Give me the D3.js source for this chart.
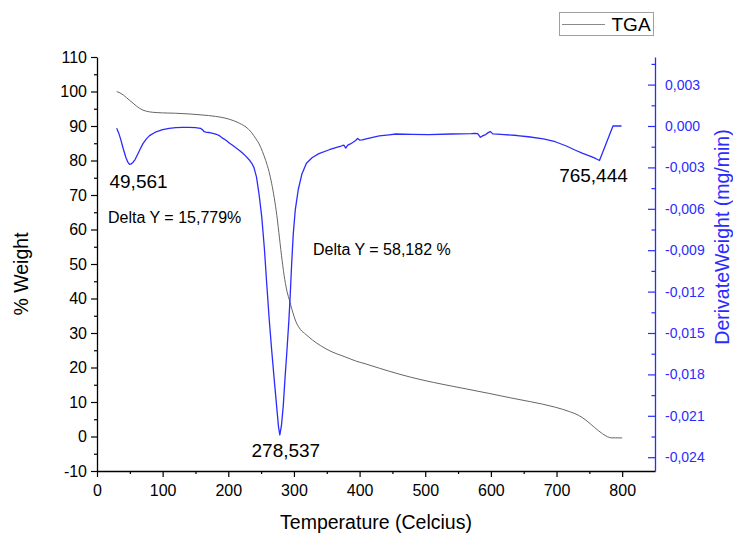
<!DOCTYPE html>
<html>
<head>
<meta charset="utf-8">
<script src="https://cdn.jsdelivr.net/npm/d3@7"></script>
<style>
  body { margin: 0; background: #fff; }
  svg { display: block; font-family: "Liberation Sans", Arial, sans-serif; }
</style>
</head>
<body>
<svg id="chart" width="733" height="534"></svg>
<script>
// Thermogravimetric curve: temperature (°C) vs remaining weight (%)
const tgaTemp = [30, 35, 40, 45, 50, 55, 60, 65, 70, 80, 90, 100, 120, 140, 160, 180, 195, 210, 220, 227,
  235, 242, 247, 252, 257, 262, 266, 270, 274, 278, 282, 286, 290, 293, 297, 303, 310, 318, 328, 340,
  355, 379, 394, 410, 430, 460, 495, 530, 565, 597, 630, 660, 698, 720, 733, 745, 758, 770, 778, 784, 790, 800];
const tgaWeight = [100, 99.6, 99.0, 98.2, 97.4, 96.6, 95.8, 95.1, 94.6, 94.1, 93.9, 93.8, 93.7, 93.5, 93.2, 92.8, 92.3, 91.4, 90.5, 89.7,
  88.2, 86.3, 84.8, 82.6, 80.0, 76.8, 73.4, 69.2, 64.0, 57.5, 51.0, 45.5, 41.6, 39.6, 36.8, 33.3, 31.0, 29.6, 28.0, 26.4,
  24.8, 23.0, 21.9, 21.0, 19.8, 18.1, 16.4, 15.0, 13.7, 12.5, 11.2, 10.1, 8.5, 7.2, 6.2, 4.7, 2.6, 0.8, -0.1, -0.4, -0.4, -0.4];

// Derivative curve: temperature (°C) vs derivative weight (mg/min)
const dtgTemp = [30, 33, 36, 40, 44, 47, 49.561, 52, 55, 58, 62, 66, 70, 75, 80, 90, 100, 110, 120, 130,
  140, 150, 155, 158, 161, 163, 166, 170, 175, 182, 187, 192, 197, 202, 207, 212, 217, 222, 227, 232,
  236, 239, 243, 247, 251, 255, 258.5, 262, 266, 270, 274, 276.5, 278.537, 281, 283.7, 286.5, 289, 292, 294, 296.5,
  299, 302, 306.6, 312, 319, 328, 338, 354, 365, 372, 376, 379, 382, 386, 390, 394, 397, 400, 404, 410,
  420, 430, 445, 455, 480, 505, 540, 570, 576, 580, 584, 588, 592, 596, 599, 603, 610, 620, 640, 657,
  680, 698, 715, 728, 740, 753, 760, 765.444, 786, 792, 799];
const dtgRate = [-0.00017, -0.0005, -0.00095, -0.00165, -0.00228, -0.00262, -0.00278, -0.00275, -0.00262, -0.00243,
  -0.00205, -0.00165, -0.00128, -0.00095, -0.0007, -0.00042, -0.00027, -0.00017, -0.00012, -0.0001,
  -0.0001, -0.00012, -0.00015, -0.00018, -0.00028, -0.0004, -0.00044, -0.00047, -0.00052, -0.0006,
  -0.00072, -0.0009, -0.00105, -0.00125, -0.00142, -0.0016, -0.00178, -0.00198, -0.0022, -0.00246,
  -0.00272, -0.003, -0.0037, -0.005, -0.0066, -0.0089, -0.0114, -0.0138, -0.0162, -0.0184,
  -0.0205, -0.0218, -0.02239, -0.0217, -0.0203, -0.0182, -0.0165, -0.0143, -0.0126, -0.0100,
  -0.0078, -0.0061, -0.0046, -0.0035, -0.0027, -0.00228, -0.002, -0.00172, -0.00155, -0.00145,
  -0.00138, -0.0016, -0.00138, -0.0013, -0.00118, -0.00105, -0.0009, -0.00102, -0.001, -0.00093,
  -0.00082, -0.00072, -0.00064, -0.00058, -0.0006, -0.00062, -0.00058, -0.00055, -0.00053, -0.00056,
  -0.00082, -0.0007, -0.00062, -0.00048, -0.0004, -0.00057, -0.00059, -0.00062, -0.00069, -0.00078,
  -0.00094, -0.00114, -0.00145, -0.00174, -0.00198, -0.00222, -0.00237, -0.0025, 0, 0, 0];

// Axis ticks
const tempTicks = [0, 100, 200, 300, 400, 500, 600, 700, 800];
const weightTicks = [-10, 0, 10, 20, 30, 40, 50, 60, 70, 80, 90, 100, 110];
const rateTicks = [0.003, 0, -0.003, -0.006, -0.009, -0.012, -0.015, -0.018, -0.021, -0.024];

// Annotations
const peakTemps = [49.561, 278.537, 765.444];
const peakLabels = ["49,561", "278,537", "765,444"];
const stepLabels = ["Delta Y = 15,779%", "Delta Y = 58,182 %"];
const seriesNames = ["TGA"];

const grayLine = "#666666";
const blue = "#2b2bff";

const svg = d3.select("#chart");

const x = d3.scaleLinear().domain([0, 850]).range([97, 655]);
const yW = d3.scaleLinear().domain([-10, 110]).range([471, 57]);
const yR = d3.scaleLinear().domain([-0.025, 0.005]).range([471, 57]);

const commaLocale = d3.formatLocale({ decimal: ",", thousands: ".", grouping: [3], currency: ["", ""], minus: "-" });
const rateFmt = commaLocale.format(".3f");

function styleAxis(g, color) {
  g.select(".domain").attr("stroke", color).attr("stroke-width", 1.3);
  g.selectAll(".tick line").attr("stroke", color).attr("stroke-width", 1.2);
  g.selectAll(".tick text").attr("fill", color);
}

// Bottom axis
const gx = svg.append("g").attr("transform", "translate(0,471)")
  .call(d3.axisBottom(x).tickValues(tempTicks).tickSizeInner(6).tickSizeOuter(0).tickPadding(8).tickFormat(d3.format("d")))
  .attr("font-size", 16).attr("font-family", null);
styleAxis(gx, "#000");
svg.append("g").attr("transform", "translate(0,471)")
  .call(d3.axisBottom(x).tickValues(d3.range(50, 800, 100)).tickSize(3).tickFormat(() => ""))
  .call(g => g.select(".domain").remove())
  .selectAll(".tick line").attr("stroke", "#000").attr("stroke-width", 1.2);

// Left axis
const gl = svg.append("g").attr("transform", "translate(97,0)")
  .call(d3.axisLeft(yW).tickValues(weightTicks).tickSizeInner(6).tickSizeOuter(0).tickPadding(4).tickFormat(d3.format("d")))
  .attr("font-size", 16).attr("font-family", null);
gl.selectAll(".tick text").text(d => d < 0 ? "-" + Math.abs(d) : d);
styleAxis(gl, "#000");
svg.append("g").attr("transform", "translate(97,0)")
  .call(d3.axisLeft(yW).tickValues(d3.range(-5, 110, 10)).tickSize(3).tickFormat(() => ""))
  .call(g => g.select(".domain").remove())
  .selectAll(".tick line").attr("stroke", "#000").attr("stroke-width", 1.2);

// Right axis (derivative)
const gr = svg.append("g").attr("transform", "translate(655,0)")
  .call(d3.axisRight(yR).tickValues(rateTicks).tickSizeInner(-7).tickSizeOuter(0).tickPadding(10).tickFormat(rateFmt))
  .attr("font-size", 14).attr("font-family", null);
styleAxis(gr, blue);
svg.append("g").attr("transform", "translate(655,0)")
  .call(d3.axisRight(yR).tickValues(d3.range(-0.0225, 0.005, 0.003)).tickSize(-3.5).tickFormat(() => ""))
  .call(g => g.select(".domain").remove())
  .selectAll(".tick line").attr("stroke", blue).attr("stroke-width", 1.2);

// Axis titles
svg.append("text").attr("x", 376).attr("y", 529).attr("text-anchor", "middle")
  .attr("font-size", 19.5).attr("fill", "#000").text("Temperature (Celcius)");
svg.append("text").attr("transform", "translate(28,274) rotate(-90)").attr("text-anchor", "middle")
  .attr("font-size", 19.5).attr("fill", "#000").text("% Weight");
svg.append("text").attr("transform", "translate(729,237) rotate(-90)").attr("text-anchor", "middle")
  .attr("font-size", 19.5).attr("fill", blue).text("DerivateWeight (mg/min)");

// Curves
const tgaData = tgaTemp.map((t, i) => [t, tgaWeight[i]]);
const dtgData = dtgTemp.map((t, i) => [t, dtgRate[i]]);

svg.append("path").datum(tgaData)
  .attr("fill", "none").attr("stroke", grayLine).attr("stroke-width", 1)
  .attr("d", d3.line().x(d => x(d[0])).y(d => yW(d[1])).curve(d3.curveMonotoneX));

svg.append("path").datum(dtgData)
  .attr("fill", "none").attr("stroke", blue).attr("stroke-width", 1.3).attr("stroke-linejoin", "round")
  .attr("d", d3.line().x(d => x(d[0])).y(d => yR(d[1])).curve(d3.curveLinear));

// Peak labels, anchored at the derivative minimum of each peak
const peakOffsets = [[9, 24], [6, 22], [-6, 21]];
peakTemps.forEach((t, i) => {
  const v = dtgRate[dtgTemp.indexOf(t)];
  svg.append("text")
    .attr("x", x(t) + peakOffsets[i][0]).attr("y", yR(v) + peakOffsets[i][1])
    .attr("text-anchor", "middle").attr("font-size", 19).attr("fill", "#000")
    .text(peakLabels[i]);
});

// Weight-loss step labels
const stepAnchors = [[16.8, 61.9], [329, 52.6]];
stepLabels.forEach((s, i) => {
  svg.append("text")
    .attr("x", x(stepAnchors[i][0])).attr("y", yW(stepAnchors[i][1]))
    .attr("font-size", 16).attr("fill", "#000").text(s);
});

// Legend
const lg = svg.append("g");
lg.append("rect").attr("x", 559.5).attr("y", 12.5).attr("width", 94).attr("height", 23)
  .attr("fill", "#fff").attr("stroke", "#a0a0a0").attr("stroke-width", 1);
lg.append("line").attr("x1", 562).attr("x2", 605).attr("y1", 24.5).attr("y2", 24.5)
  .attr("stroke", "#8a8a8a").attr("stroke-width", 1);
lg.append("text").attr("x", 611.5).attr("y", 31).attr("font-size", 19).attr("fill", "#000").text(seriesNames[0]);
</script>
</body>
</html>
